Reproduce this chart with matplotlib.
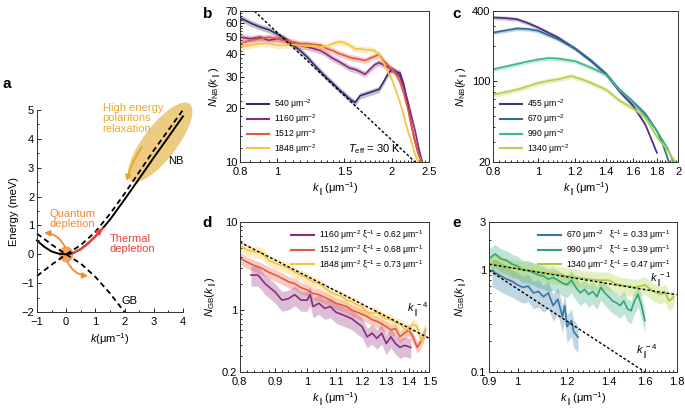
import numpy as np
import matplotlib
matplotlib.use('Agg')
import matplotlib.pyplot as plt
from matplotlib.patches import Ellipse
from matplotlib.ticker import NullFormatter

plt.rcParams['font.family'] = ['Liberation Sans', 'DejaVu Sans']
plt.rcParams['mathtext.fontset'] = 'custom'
plt.rcParams['mathtext.rm'] = 'Liberation Sans'
plt.rcParams['mathtext.it'] = 'Liberation Sans:italic'
plt.rcParams['font.size'] = 8
plt.rcParams['axes.linewidth'] = 0.7
plt.rcParams['axes.edgecolor'] = '#333333'

# ---------------- panel a: dispersion sketch ----------------
nb_k = [-1, -0.75, -0.5, -0.25, 0, 0.25, 0.5, 0.75, 1.0, 1.25, 1.5, 2.0, 2.5, 3.0, 3.5, 4.0]
nb_e = [0.48, 0.26, 0.1, 0.02, 0.0, 0.05, 0.18, 0.38, 0.62, 0.9, 1.2, 1.9, 2.62, 3.35, 4.06, 4.78]
nb_dash_k = [-1, -0.5, 0, 0.5, 1, 1.5, 2, 2.5, 3, 3.5, 4]
nb_dash_e = [0.72, 0.34, 0.0, 0.32, 0.78, 1.4, 2.1, 2.85, 3.6, 4.3, 5.0]
gb_k = [-1, -0.5, 0, 0.5, 1, 1.5, 2]
gb_e = [-0.75, -0.36, 0.0, -0.32, -0.78, -1.35, -2.0]

# ---------------- panel b: N_NB, T_eff = 30 K ----------------
b_labels = ['540 μm$^{-2}$', '1160 μm$^{-2}$', '1512 μm$^{-2}$', '1848 μm$^{-2}$']
b_colors = ['#3d2a6c', '#8c2b7c', '#e8583f', '#f6c445']
b_err = [0.04, 0.04, 0.04, 0.04]
b_k = [0.8, 0.85, 0.9, 0.95, 1.0, 1.05, 1.1, 1.15, 1.2, 1.25, 1.3, 1.35, 1.4, 1.45, 1.5, 1.55,
       1.6, 1.65, 1.7, 1.75, 1.8, 1.85, 1.9, 1.95, 2.0, 2.05, 2.1, 2.15, 2.2, 2.25, 2.3, 2.35, 2.4]
b_540 = [64, 60, 57, 55, 52, 49, 45, 42, 38.5, 35, 32, 29.5, 27.5, 25.5, 24, 22.5,
         21.5, 23.5, 24, 24.5, 25, 25.5, 28, 31, 33, 32, 31.5, 27, 21, 16, 13, 11, 10]
b_1160 = [50, 49, 50, 48, 49, 48, 46, 45, 44, 43, 42, 40, 38, 36.5, 35, 33.5,
          33, 32, 31, 33, 35, 36, 35, 34, 33, 32, 30, 26, 22, 18, 15, 12, 10]
b_1512 = [46, 48, 49, 50, 49, 48, 47, 46, 46, 45.5, 45, 43, 42, 40.5, 39.5, 38.5,
          38, 37.5, 37, 38, 39, 40, 37, 35, 33, 31, 28, 24, 20, 16, 13, 11, 10]
b_1848 = [44, 45, 46, 46, 45, 45, 45.5, 45, 44.5, 44.5, 44, 44.5, 46, 47, 46.5, 45,
          43, 43, 42.5, 42.5, 42, 40, 36, 32, 29, 25, 21.5, 18, 15, 13, 11, 10, 9.5]
b_th_k = [0.87, 2.3]
b_th_n = [70, 10]

# ---------------- panel c: N_NB, low densities ----------------
c_labels = ['455 μm$^{-2}$', '670 μm$^{-2}$', '990 μm$^{-2}$', '1340 μm$^{-2}$']
c_colors = ['#4a2f80', '#2c6d98', '#3cb98c', '#b0d24a']
c_err = [0.04, 0.04, 0.04, 0.05]
c_k455 = [0.8, 0.85, 0.9, 0.95, 1.0, 1.1, 1.2, 1.3, 1.4, 1.5, 1.6, 1.7, 1.8]
c_455 = [352, 348, 340, 315, 288, 238, 190, 148, 114, 80, 61, 42, 24]
c_k670 = [0.8, 0.85, 0.9, 0.95, 1.0, 1.1, 1.2, 1.3, 1.4, 1.5, 1.6, 1.7, 1.8, 1.85, 1.91]
c_670 = [261, 272, 283, 280, 270, 230, 190, 150, 115, 83, 66, 52, 37, 29, 20]
c_k990 = [0.8, 0.85, 0.9, 0.95, 1.0, 1.05, 1.1, 1.2, 1.3, 1.4, 1.5, 1.6, 1.7, 1.8, 1.9, 1.95]
c_990 = [126, 133, 140, 147, 153, 157, 156, 148, 130, 113, 82, 65, 50, 37, 26, 20]
c_k1340 = [0.8, 0.85, 0.9, 0.95, 1.0, 1.05, 1.1, 1.18, 1.25, 1.3, 1.4, 1.5, 1.6, 1.7, 1.8, 1.9, 1.97]
c_1340 = [76, 80, 84, 90, 96, 100, 103, 110, 102, 96, 84, 67, 58, 48, 33, 25, 20]

# ---------------- panel d: N_GB, high densities ----------------
d_labels = ['1160 μm$^{-2}$ ξ$^{-1}$ = 0.62 μm$^{-1}$',
            '1512 μm$^{-2}$ ξ$^{-1}$ = 0.68 μm$^{-1}$',
            '1848 μm$^{-2}$ ξ$^{-1}$ = 0.73 μm$^{-1}$']
d_colors = ['#8c2b7c', '#e8583f', '#f6c445']
d_err = [0.25, 0.15, 0.15]
d_k1160 = [0.83, 0.85, 0.87, 0.9, 0.92, 0.94, 0.96, 0.98, 1.0, 1.01, 1.02, 1.04, 1.06, 1.08, 1.1,
           1.12, 1.14, 1.16, 1.18, 1.2, 1.22, 1.24, 1.26, 1.28, 1.3, 1.32, 1.34, 1.36, 1.38, 1.41]
d_1160 = [2.5, 2.5, 2.0, 1.6, 1.3, 1.35, 1.5, 1.3, 1.3, 1.5, 1.1, 1.2, 1.05, 1.1, 0.95,
          0.9, 0.85, 0.8, 0.72, 0.65, 0.5, 0.55, 0.48, 0.55, 0.42, 0.5, 0.42, 0.38, 0.4, 0.38]
d_k = [0.8, 0.82, 0.84, 0.86, 0.88, 0.9, 0.92, 0.94, 0.96, 0.98, 1.0, 1.02, 1.04, 1.06, 1.08, 1.1,
       1.12, 1.14, 1.16, 1.18, 1.2, 1.22, 1.24, 1.26, 1.28, 1.3, 1.32, 1.34, 1.36, 1.38, 1.4,
       1.42, 1.44, 1.46, 1.48]
d_1512 = [3.9, 3.5, 3.2, 3.0, 2.7, 2.5, 2.3, 2.1, 2.0, 1.8, 1.7, 1.55, 1.5, 1.4, 1.3, 1.2,
          1.15, 1.1, 1.0, 0.95, 0.9, 0.85, 0.78, 0.75, 0.7, 0.65, 0.6, 0.62, 0.5, 0.55, 0.6,
          0.5, 0.38, 0.45, 0.6]
d_1848 = [5.4, 4.8, 4.6, 4.5, 3.7, 3.4, 3.2, 3.0, 2.7, 2.5, 2.3, 2.1, 2.0, 1.8, 1.6, 1.5,
          1.45, 1.3, 1.25, 1.15, 1.1, 0.95, 0.92, 0.95, 0.85, 0.8, 0.78, 0.72, 0.7, 0.62, 0.6,
          0.7, 0.65, 0.45, 0.62]
d_pow_k = [0.8, 1.5]
d_pow_n = [5.9, 0.48]

# ---------------- panel e: N_GB, low densities ----------------
e_labels = ['670 μm$^{-2}$   ξ$^{-1}$ = 0.33 μm$^{-1}$',
            '990 μm$^{-2}$   ξ$^{-1}$ = 0.39 μm$^{-1}$',
            '1340 μm$^{-2}$ ξ$^{-1}$ = 0.47 μm$^{-1}$']
e_colors = ['#3577a0', '#2fa878', '#a6cc3a']
e_err = [0.3, 0.25, 0.2]
e_k670 = [0.91, 0.92, 0.94, 0.96, 0.98, 1.0, 1.02, 1.04, 1.06, 1.08, 1.1, 1.12, 1.14, 1.16,
          1.18, 1.19, 1.2, 1.22, 1.23, 1.25]
e_670 = [1.0, 0.95, 0.88, 0.82, 0.78, 0.72, 0.68, 0.7, 0.6, 0.62, 0.55, 0.6, 0.45, 0.52,
         0.35, 0.45, 0.28, 0.32, 0.25, 0.22]
e_k990 = [0.9, 0.92, 0.94, 0.96, 0.98, 1.0, 1.02, 1.04, 1.06, 1.08, 1.1, 1.12, 1.14, 1.16, 1.18,
          1.2, 1.22, 1.24, 1.26, 1.28, 1.3, 1.32, 1.34, 1.36, 1.38, 1.4, 1.42, 1.44, 1.46, 1.48,
          1.5, 1.52, 1.54, 1.56, 1.58, 1.6]
e_990 = [1.3, 1.45, 1.3, 1.25, 1.15, 1.1, 1.0, 1.0, 0.95, 0.9, 0.88, 0.82, 0.85, 0.8, 0.75,
         0.72, 0.8, 0.68, 0.6, 0.65, 0.58, 0.62, 0.55, 0.68, 0.6, 0.55, 0.5, 0.48, 0.45, 0.5,
         0.42, 0.4, 0.5, 0.58, 0.45, 0.32]
e_k1340 = [0.9, 0.92, 0.94, 0.96, 0.98, 1.0, 1.05, 1.1, 1.15, 1.2, 1.25, 1.3, 1.35, 1.4, 1.45,
           1.5, 1.55, 1.6, 1.65, 1.7, 1.72, 1.75, 1.78]
e_1340 = [1.1, 1.25, 1.15, 1.1, 1.05, 1.05, 1.0, 0.95, 0.92, 0.88, 0.85, 0.82, 0.8, 0.8, 0.72,
          0.7, 0.68, 0.72, 0.62, 0.58, 0.62, 0.5, 0.55]
e_pow1_k = [0.9, 1.8]
e_pow1_n = [1.15, 0.575]
e_pow4_k = [0.9, 1.6]
e_pow4_n = [1.0, 0.1]

KPAR = r'$k_{\parallel}$(μm$^{-1}$)'
LEG = dict(frameon=False, fontsize=6.2, handlelength=2.6, labelspacing=0.12,
           handletextpad=0.6, borderaxespad=0.35)


def style_axis(ax):
    ax.tick_params(which='both', direction='in', width=0.6, labelsize=8)
    ax.tick_params(which='major', length=3)
    ax.tick_params(which='minor', length=1.6)
    ax.tick_params(axis='x', pad=3.5)
    ax.tick_params(axis='y', pad=2)


def band(ax, k, n, err, color):
    n = np.asarray(n, dtype=float)
    ax.fill_between(k, n * (1 - err), n * (1 + err), color=color, alpha=0.3, lw=0)
    ax.plot(k, n, color=color, lw=1.2)


def log_axes(ax, xlim, ylim, xmaj, xmin, ymaj, ymin, xlab, ylab):
    ax.set_xscale('log')
    ax.set_yscale('log')
    ax.set_xlim(*xlim)
    ax.set_ylim(*ylim)
    ax.set_xticks(xmaj, [('%g' % v) for v in xmaj])
    ax.set_xticks(xmin, minor=True)
    ax.set_yticks(ymaj, [('%g' % v) for v in ymaj])
    ax.set_yticks(ymin, minor=True)
    ax.xaxis.set_minor_formatter(NullFormatter())
    ax.yaxis.set_minor_formatter(NullFormatter())
    ax.set_xlabel(xlab, labelpad=3)
    ax.set_ylabel(ylab, labelpad=1)
    style_axis(ax)


fig = plt.figure(figsize=(6.85, 4.09), dpi=100)

# ---- a ----
ax_a = fig.add_axes([0.054, 0.237, 0.213, 0.494])
ax_a.add_patch(Ellipse((3.22, 3.88), width=3.35, height=1.15, angle=53, color='#e6b64c',
                       alpha=0.7, lw=0, clip_on=False))
ax_a.plot(nb_k, nb_e, color='black', lw=1.4, clip_on=False)
ax_a.plot(nb_dash_k, nb_dash_e, color='black', lw=1.3, ls=(0, (3, 2)), clip_on=False)
ax_a.plot(gb_k, gb_e, color='black', lw=1.3, ls=(0, (3, 2)), clip_on=False)
red = '#e8443a'
sel = [i for i, k in enumerate(nb_k) if 0.2 <= k <= 1.25]
ax_a.plot([nb_k[i] for i in sel], [nb_e[i] for i in sel], color=red, lw=1.6)
ax_a.annotate('', xy=(nb_k[sel[-1]], nb_e[sel[-1]]), xytext=(nb_k[sel[-1]] - 0.1, nb_e[sel[-1]] - 0.1),
              arrowprops=dict(arrowstyle='-|>', color=red, lw=1.4, mutation_scale=8))
ax_a.add_patch(Ellipse((0.0, 0.0), width=0.5, height=0.55, color='#f08a3a', alpha=0.8, lw=0))
orange = '#f08a30'
ax_a.annotate('', xy=(-0.85, 0.75), xytext=(0.0, 0.15),
              arrowprops=dict(arrowstyle='-|>', color=orange, lw=1.3, mutation_scale=8,
                              connectionstyle='arc3,rad=0.35'))
ax_a.annotate('', xy=(0.85, -0.75), xytext=(0.0, -0.15),
              arrowprops=dict(arrowstyle='-|>', color=orange, lw=1.3, mutation_scale=8,
                              connectionstyle='arc3,rad=0.35'))
gold = '#e8a522'
ax_a.annotate('', xy=(2.05, 2.45), xytext=(2.65, 3.8),
              arrowprops=dict(arrowstyle='-|>', color=gold, lw=1.3, mutation_scale=8,
                              connectionstyle='arc3,rad=0.1'))
ax_a.text(1.25, 5.25, 'High energy\npolaritons\nrelaxation', color='#e8a830', fontsize=8,
          va='top', ha='left', linespacing=1.05)
ax_a.text(3.5, 3.25, 'NB', fontsize=8, va='center')
ax_a.text(1.9, -1.6, 'GB', fontsize=8, va='center')
ax_a.text(0.2, 1.22, 'Quantum\ndepletion', color=orange, fontsize=8, ha='center', va='center',
          linespacing=1.05)
ax_a.text(1.5, 0.35, 'Thermal\ndepletion', color=red, fontsize=8, ha='left', va='center',
          linespacing=1.05)
ax_a.set_xlim(-1, 4)
ax_a.set_ylim(-2, 5)
ax_a.set_xticks(range(-1, 5), ['\u22121', '0', '1', '2', '3', '4'])
ax_a.set_yticks(range(-2, 6), ['\u22122', '\u22121', '0', '1', '2', '3', '4', '5'])
ax_a.set_xticks(np.arange(-1, 4.01, 0.5), minor=True)
ax_a.set_yticks(np.arange(-2, 5.01, 0.5), minor=True)
ax_a.spines['top'].set_visible(False)
ax_a.spines['right'].set_visible(False)
ax_a.set_xlabel(r'$k$(μm$^{-1}$)', labelpad=3)
ax_a.set_ylabel('Energy (meV)', labelpad=2)
style_axis(ax_a)

# ---- b ----
ax_b = fig.add_axes([0.351, 0.604, 0.275, 0.369])
for n, lab, col, er in zip([b_540, b_1160, b_1512, b_1848], b_labels, b_colors, b_err):
    band(ax_b, b_k, n, er, col)
ax_b.plot(b_th_k, b_th_n, color='black', lw=1.0, ls=(0, (2, 1.5)))
for lab, col in zip(b_labels, b_colors):
    ax_b.plot([], [], color=col, lw=1.5, label=lab)
ax_b.legend(loc='lower left', **LEG)
ax_b.text(1.53, 11.3, r'$T_{\rm eff}$ = 30 K', fontsize=8)
log_axes(ax_b, (0.8, 2.5), (10, 70), [0.8, 1, 1.5, 2, 2.5], np.arange(0.8, 2.5, 0.05),
         [10, 20, 30, 40, 50, 60, 70], np.arange(10, 70, 2), KPAR, r'$N_{\rm NB}(k_{\parallel})$')

# ---- c ----
ax_c = fig.add_axes([0.720, 0.604, 0.270, 0.369])
for k, n, col, er in zip([c_k455, c_k670, c_k990, c_k1340], [c_455, c_670, c_990, c_1340], c_colors, c_err):
    band(ax_c, k, n, er, col)
for lab, col in zip(c_labels, c_colors):
    ax_c.plot([], [], color=col, lw=1.5, label=lab)
ax_c.legend(loc='lower left', **LEG)
log_axes(ax_c, (0.8, 2.0), (20, 400), [0.8, 1, 1.2, 1.4, 1.6, 1.8, 2], np.arange(0.8, 2.0, 0.025),
         [20, 100, 400], [30, 40, 50, 60, 70, 80, 90, 200, 300], KPAR, r'$N_{\rm NB}(k_{\parallel})$')

# ---- d ----
ax_d = fig.add_axes([0.350, 0.0905, 0.277, 0.367])
for k, n, col, er in zip([d_k1160, d_k, d_k], [d_1160, d_1512, d_1848], d_colors, d_err):
    band(ax_d, k, n, er, col)
ax_d.plot(d_pow_k, d_pow_n, color='black', lw=1.0, ls=(0, (2, 1.5)))
for lab, col in zip(d_labels, d_colors):
    ax_d.plot([], [], color=col, lw=1.5, label=lab)
ax_d.legend(loc='upper right', **LEG)
ax_d.text(1.39, 1.0, r'$k_{\parallel}^{\;-4}$', fontsize=8, va='center')
log_axes(ax_d, (0.8, 1.5), (0.2, 10), [0.8, 0.9, 1, 1.1, 1.2, 1.3, 1.4, 1.5], np.arange(0.8, 1.5, 0.02),
         [0.2, 1, 10], [0.3, 0.4, 0.5, 0.6, 0.7, 0.8, 0.9, 2, 3, 4, 5, 6, 7, 8, 9], KPAR,
         r'$N_{\rm GB}(k_{\parallel})$')

# ---- e ----
ax_e = fig.add_axes([0.714, 0.0905, 0.274, 0.367])
for k, n, col, er in zip([e_k670, e_k990, e_k1340], [e_670, e_990, e_1340], e_colors, e_err):
    band(ax_e, k, n, er, col)
ax_e.plot(e_pow1_k, e_pow1_n, color='black', lw=1.0, ls=(0, (2, 1.5)))
ax_e.plot(e_pow4_k, e_pow4_n, color='black', lw=1.0, ls=(0, (2, 1.5)))
for lab, col in zip(e_labels, e_colors):
    ax_e.plot([], [], color=col, lw=1.5, label=lab)
ax_e.legend(loc='upper right', **LEG)
ax_e.text(1.63, 0.8, r'$k_{\parallel}^{\;-1}$', fontsize=8, va='center')
ax_e.text(1.55, 0.155, r'$k_{\parallel}^{\;-4}$', fontsize=8, va='center')
log_axes(ax_e, (0.9, 1.8), (0.1, 3), [0.9, 1, 1.2, 1.4, 1.6, 1.8], np.arange(0.9, 1.8, 0.025),
         [0.1, 1, 3], [0.2, 0.3, 0.4, 0.5, 0.6, 0.7, 0.8, 0.9, 2], KPAR, r'$N_{\rm GB}(k_{\parallel})$')

for lab, x, y in [('a', 0.003, 0.785), ('b', 0.296, 0.955), ('c', 0.660, 0.955),
                  ('d', 0.296, 0.445), ('e', 0.660, 0.445)]:
    fig.text(x, y, lab, fontsize=11, fontweight='bold')

fig.savefig('out.png', dpi=100)
